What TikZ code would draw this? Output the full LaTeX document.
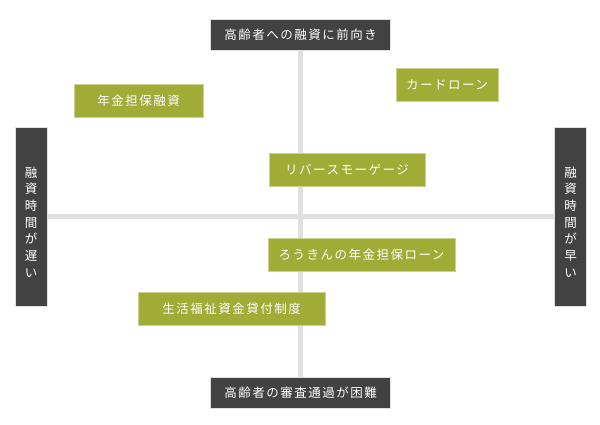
\documentclass[tikz,border=0pt]{standalone}
\usepackage{fontspec}
\newfontfamily\jpfont[LetterSpace=12]{Noto Sans CJK JP}
\usetikzlibrary{backgrounds}
\definecolor{axisgray}{HTML}{E0E0E0}
\definecolor{darkbox}{HTML}{424242}
\definecolor{olivebox}{HTML}{A0AC36}
\tikzset{
    axisbox/.style={fill=darkbox, draw=axisgray, line width=0.8pt, text=white, inner sep=0pt,
        font=\jpfont\fontsize{12.5}{16.7}\selectfont},
    itembox/.style={fill=olivebox, draw=olivebox!55!white, line width=0.8pt, text=white, inner sep=0pt,
        minimum height=33, font=\jpfont\fontsize{12.5}{15}\selectfont},
    axisline/.style={axisgray, line width=5pt}
}
\begin{document}
\begin{tikzpicture}[x=1pt, y=-1pt]
    \useasboundingbox (0,0) rectangle (600,425);
    \def\cx{300.5}      % centre of the cross
    \def\cy{216.5}
    \def\hw{180}        % width of top and bottom boxes
    \def\hh{31}         % height of top and bottom boxes
    \def\vw{32}         % width of side boxes
    \def\vh{179}        % height of side boxes
    % Draw the axis labels
    \node[axisbox, minimum width=\hw, minimum height=\hh] (upper) at (\cx,34.5) {高齢者への融資に前向き};
    \node[axisbox, minimum width=\hw, minimum height=\hh] (lower) at (\cx,392.5) {高齢者の審査通過が困難};
    \node[axisbox, minimum width=\vw, minimum height=\vh, align=center] (slow) at (31,\cy) {};
    \node[align=center, text=white, inner sep=0pt, font=\jpfont\fontsize{12.5}{16.7}\selectfont]
        (slowtext) at (31,222) {融\\資\\時\\間\\が\\遅\\い};
    \node[axisbox, minimum width=\vw, minimum height=\vh, align=center] (fast) at (570.5,\cy) {};
    \node[align=center, text=white, inner sep=0pt, font=\jpfont\fontsize{12.5}{16.7}\selectfont]
        (fasttext) at (570.5,222) {融\\資\\時\\間\\が\\早\\い};
    % Draw the loan products
    \node[itembox, minimum width=129] (pension) at (138.5,100.5) {年金担保融資};
    \node[itembox, minimum width=102] (card) at (447,85) {カードローン};
    \node[itembox, minimum width=156] (reverse) at (347,169.5) {リバースモーゲージ};
    \node[itembox, minimum width=187] (rokin) at (361.5,255) {ろうきんの年金担保ローン};
    \node[itembox, minimum width=187] (welfare) at (231.5,309) {生活福祉資金貸付制度};
    % Draw the axes behind everything
    \begin{scope}[on background layer]
        \draw[axisline] (upper.south) -- (lower.north);
        \draw[axisline] (slow.east) -- (fast.west);
    \end{scope}
\end{tikzpicture}
\end{document}
